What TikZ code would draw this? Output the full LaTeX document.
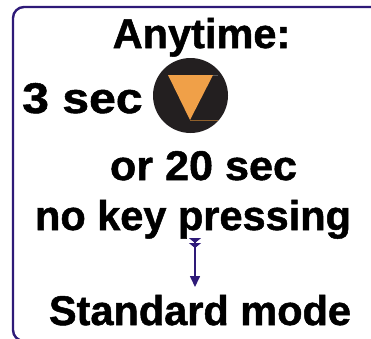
\documentclass[tikz,border=0pt]{standalone}
\usepackage{fontspec}
\setmainfont{Liberation Sans}[BoldFeatures={FakeBold=1.2}]
\usetikzlibrary{arrows.meta}
\definecolor{frame}{RGB}{46,26,120}
\definecolor{keyorange}{RGB}{240,160,72}
\definecolor{keydark}{RGB}{35,31,32}
\tikzset{
  txt/.style={inner sep=0pt, anchor=base, font=\bfseries\fontsize{41.5}{41.5}\selectfont},
  flow/.style={draw=frame, line width=1.6pt,
    {Triangle[reversed,width=12pt,length=5pt]Triangle[reversed,width=12pt,length=5pt]}-{Triangle[width=10pt,length=11pt]}}
}
\begin{document}
\begin{tikzpicture}[x=1pt,y=-1pt]
\useasboundingbox (0,0) rectangle (371,338);
\begin{scope}
\clip (0,0) rectangle (371,338);
\draw[frame, line width=2.4pt, rounded corners=11pt] (13,7) rectangle (400,341);
\end{scope}
\node[txt] (any) at (201.5,48) {Anytime:};
\node[txt, anchor=base west, font=\bfseries\fontsize{43}{43}\selectfont] (three) at (22,113) {\scalebox{1.12}[1]{3 sec}};
\node[circle, fill=keydark, minimum size=75pt, inner sep=0pt] (key) at (190.5,95.5) {};
\fill[keyorange] (168,75) -- (213,75) -- (190,120) -- cycle;
\draw[line width=0.4pt, gray!70!black] (213,75) -- (218,75);
\draw[line width=0.5pt, keyorange!60!black] (190,120) -- (218,120);
\node[txt] (or) at (203.5,180) {\scalebox{1.04}[1]{or 20 sec}};
\node[txt] (nokey) at (193,230) {no key pressing};
\node[txt] (std) at (200,325) {Standard mode};
\coordinate (a1) at (195,238);
\coordinate (a2) at (195,287);
\draw[flow] (a1) -- (a2);
\end{tikzpicture}
\end{document}
